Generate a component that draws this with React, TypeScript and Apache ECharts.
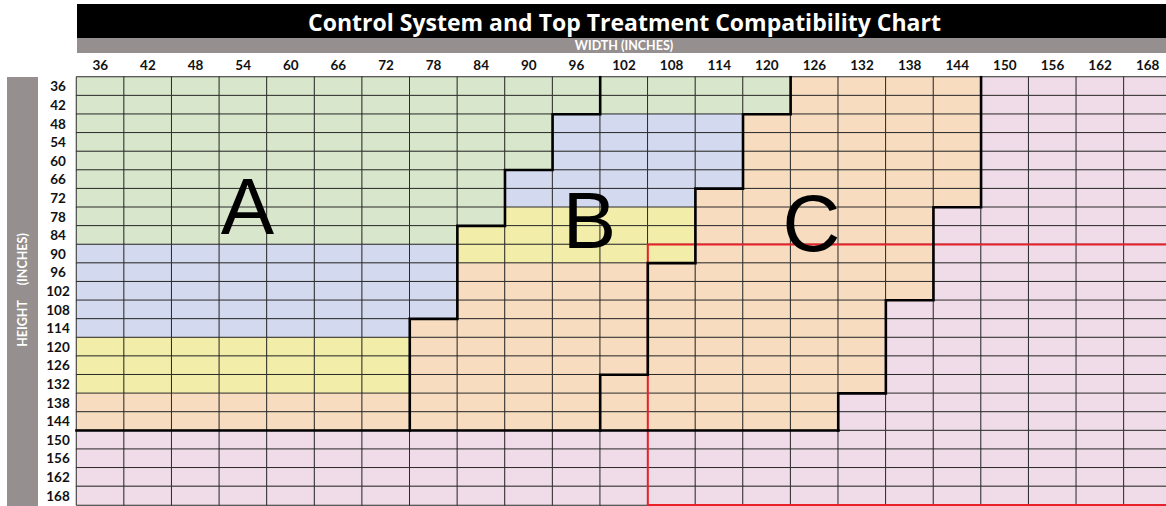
import React, { useEffect, useRef } from "react";
import * as echarts from "echarts";

const widths = [36, 42, 48, 54, 60, 66, 72, 78, 84, 90, 96, 102, 108, 114, 120, 126, 132, 138, 144, 150, 156, 162, 168];
const heights = [36, 42, 48, 54, 60, 66, 72, 78, 84, 90, 96, 102, 108, 114, 120, 126, 132, 138, 144, 150, 156, 162, 168];

// Zone letter per cell, one string per height row (G green, B blue, Y yellow, O orange, P pink)
const zoneRows = [
  "GGGGGGGGGGGGGGGOOOOPPPP",
  "GGGGGGGGGGGGGGGOOOOPPPP",
  "GGGGGGGGGGBBBBOOOOOPPPP",
  "GGGGGGGGGGBBBBOOOOOPPPP",
  "GGGGGGGGGGBBBBOOOOOPPPP",
  "GGGGGGGGGBBBBBOOOOOPPPP",
  "GGGGGGGGGBBBBOOOOOOPPPP",
  "GGGGGGGGGYYYYOOOOOPPPPP",
  "GGGGGGGGYYYYYOOOOOPPPPP",
  "BBBBBBBBYYYYYOOOOOPPPPP",
  "BBBBBBBBOOOOOOOOOOPPPPP",
  "BBBBBBBBOOOOOOOOOOPPPPP",
  "BBBBBBBBOOOOOOOOOPPPPPP",
  "BBBBBBBOOOOOOOOOOPPPPPP",
  "YYYYYYYOOOOOOOOOOPPPPPP",
  "YYYYYYYOOOOOOOOOOPPPPPP",
  "YYYYYYYOOOOOOOOOOPPPPPP",
  "OOOOOOOOOOOOOOOOPPPPPPP",
  "OOOOOOOOOOOOOOOOPPPPPPP",
  "PPPPPPPPPPPPPPPPPPPPPPP",
  "PPPPPPPPPPPPPPPPPPPPPPP",
  "PPPPPPPPPPPPPPPPPPPPPPP",
  "PPPPPPPPPPPPPPPPPPPPPPP",
];
const zoneKeys = ["G", "B", "Y", "O", "P"];
const zoneColors = ["#d8e7cb", "#d3d9ee", "#f2eda9", "#f7dcc0", "#f0dce8"];

// Boundary polylines, in inches (cell edges at half steps)
const boundaryA = [[99, 33], [99, 45], [93, 45], [93, 63], [87, 63], [87, 81], [81, 81], [81, 111], [75, 111], [75, 147]];
const boundaryBottom = [[33, 147], [129, 147]];
const boundaryB = [[123, 33], [123, 45], [117, 45], [117, 69], [111, 69], [111, 93], [105, 93], [105, 129], [99, 129], [99, 147]];
const boundaryC = [[147, 33], [147, 75], [141, 75], [141, 105], [135, 105], [135, 135], [129, 135], [129, 147]];
const redBox = [[171, 87], [105, 87], [105, 171], [171, 171]];

const regionLabels = [
  { text: "A", x: 247.5, y: 206 },
  { text: "B", x: 589.5, y: 220 },
  { text: "C", x: 811.5, y: 223 },
];

const titleText = "Control System and Top Treatment Compatibility Chart";
const widthLabel = "WIDTH (INCHES)";
const heightLabel = "HEIGHT     (INCHES)";

export default function App() {
  const ref = useRef<HTMLDivElement>(null);
  useEffect(() => {
    if (!ref.current) return;
    const chart = echarts.init(ref.current, undefined, { renderer: "svg" });
    const data: number[][] = [];
    zoneRows.forEach((row, r) => {
      row.split("").forEach((ch, c) => {
        data.push([c, r, zoneKeys.indexOf(ch)]);
      });
    });
    const labelFont = "Lato";
    const gray = "#968f8f";
    chart.setOption({
      animation: false,
      grid: { left: 76.5, top: 77, width: 1095, height: 428 },
      xAxis: [
        {
          type: "category",
          data: widths.map(String),
          position: "top",
          axisLine: { show: false },
          axisTick: { show: false },
          splitLine: { show: false },
          axisLabel: { fontWeight: "bold", fontSize: 13.5, color: "#111", margin: 5, fontFamily: labelFont, interval: 0 },
        },
        { type: "value", min: 33, max: 171, show: false },
      ],
      yAxis: [
        {
          type: "category",
          data: heights.map(String),
          inverse: true,
          axisLine: { show: false },
          axisTick: { show: false },
          splitLine: { show: false },
          axisLabel: { fontWeight: "bold", fontSize: 13.5, color: "#111", margin: 18.5, align: "center", fontFamily: labelFont, interval: 0 },
        },
        { type: "value", min: 33, max: 171, inverse: true, show: false },
      ],
      visualMap: {
        type: "piecewise",
        show: false,
        dimension: 2,
        seriesIndex: 0,
        pieces: zoneColors.map((color, i) => ({ value: i, color })),
      },
      series: [
        {
          type: "heatmap",
          xAxisIndex: 0,
          yAxisIndex: 0,
          data,
          itemStyle: { borderColor: "#2a2a2a", borderWidth: 1 },
          emphasis: { disabled: true },
          silent: true,
        },
        {
          type: "lines",
          coordinateSystem: "cartesian2d",
          xAxisIndex: 1,
          yAxisIndex: 1,
          polyline: true,
          z: 3,
          lineStyle: { color: "#e8202a", width: 2, opacity: 1 },
          data: [{ coords: redBox }],
          silent: true,
        },
        {
          type: "lines",
          coordinateSystem: "cartesian2d",
          xAxisIndex: 1,
          yAxisIndex: 1,
          polyline: true,
          z: 4,
          lineStyle: { color: "#000", width: 2.6, opacity: 1, cap: "square", join: "miter" },
          data: [{ coords: boundaryA }, { coords: boundaryBottom }, { coords: boundaryB }, { coords: boundaryC }],
          silent: true,
        },
      ],
      graphic: [
        { type: "rect", shape: { x: 77, y: 4, width: 1110, height: 34 }, style: { fill: "#000" }, z: 10 },
        { type: "rect", shape: { x: 77, y: 38, width: 1110, height: 15 }, style: { fill: gray }, z: 10 },
        { type: "rect", shape: { x: 7, y: 77, width: 31, height: 430 }, style: { fill: gray }, z: 10 },
        {
          type: "text",
          x: 624.5,
          y: 21.5,
          z: 11,
          style: { text: titleText, fill: "#fff", font: "bold 23px 'Open Sans'", textAlign: "center", textVerticalAlign: "middle" },
        },
        {
          type: "text",
          x: 624,
          y: 45.5,
          z: 11,
          style: { text: widthLabel, fill: "#fff", font: "bold 12.5px Lato", textAlign: "center", textVerticalAlign: "middle" },
        },
        {
          type: "text",
          x: 22.5,
          y: 290,
          rotation: Math.PI / 2,
          z: 11,
          style: { text: heightLabel, fill: "#fff", font: "bold 12.5px Lato", textAlign: "center", textVerticalAlign: "middle" },
        },
        ...regionLabels.map((l) => ({
          type: "text",
          x: l.x,
          y: l.y,
          z: 20,
          style: { text: l.text, fill: "#000", font: "80px 'Liberation Sans'", textAlign: "center", textVerticalAlign: "middle" },
        })),
      ],
    });
    return () => chart.dispose();
  }, []);
  return (
    <div style={{ position: "absolute", left: 0, top: 0, width: 1166, height: 506, overflow: "hidden" }}>
      <div ref={ref} style={{ width: 1190, height: 506 }} />
    </div>
  );
}
